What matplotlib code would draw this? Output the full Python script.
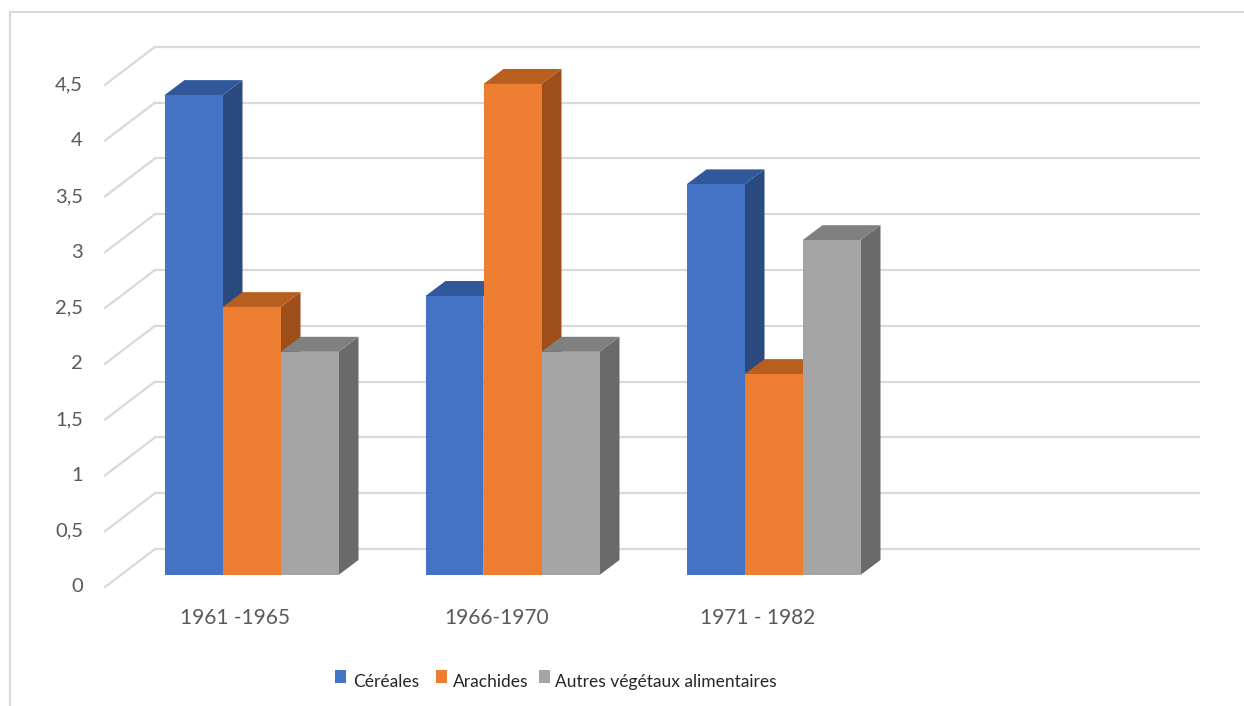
import numpy as np
import matplotlib.pyplot as plt
from matplotlib.patches import Polygon, Rectangle
from matplotlib.lines import Line2D

# data
categories = ['1961 -1965', '1966-1970', '1971 - 1982']
cereales = [4.3, 2.5, 3.5]
arachides = [2.4, 4.4, 1.8]
autres = [2.0, 2.0, 3.0]
series_names = ['Céréales', 'Arachides', 'Autres végétaux alimentaires']
yticks = [0, 0.5, 1, 1.5, 2, 2.5, 3, 3.5, 4, 4.5]
ytick_labels = ['0', '0,5', '1', '1,5', '2', '2,5', '3', '3,5', '4', '4,5']
n_slots = 4  # excel keeps an empty 4th slot

front_cols = ['#4472C4', '#ED7D31', '#A5A5A5']
top_cols = ['#30589A', '#B85E1F', '#808080']
side_cols = ['#2A4A80', '#9E4E18', '#6A6A6A']
grid_col = '#D9D9D9'
txt_col = '#595959'

W, H = 1244, 706
fig = plt.figure(figsize=(W / 100, H / 100), dpi=100)
ax = fig.add_axes([0, 0, 1, 1])
# slot 0 starts at px 121, 261 px per slot; value 0 at py 575, 111.6 px per unit
px_slot, px_unit = 261.0, 111.6
ax.set_xlim(-121 / px_slot, (W - 121) / px_slot)
ax.set_ylim(-(H - 575) / px_unit, 575 / px_unit)
ax.axis('off')

def off(dx_px, dy_px):
    return dx_px / px_slot, dy_px / px_unit

back = off(34, 26)     # back wall
front = off(-16, -12)  # front end of the floor diagonals
depth = off(20, 15)    # bar depth

# gridlines: back wall + diagonal
for v in yticks:
    ax.add_line(Line2D([back[0], n_slots + back[0]], [v + back[1], v + back[1]],
                       color=grid_col, lw=1.6, zorder=1))
    ax.add_line(Line2D([front[0], back[0]], [v + front[1], v + back[1]],
                       color=grid_col, lw=1.6, zorder=1))
for v, lab in zip(yticks, ytick_labels):
    ax.text(front[0] - 22 / px_slot, v + front[1], lab, ha='right', va='center',
            fontsize=14.5, color=txt_col, family='Lato')

# bars
bw = 58 / px_slot
values = [cereales, arachides, autres]
z = 2
for i in range(len(categories)):
    for s in range(3):
        v = values[s][i]
        x0 = i + 0.5 + (s - 1.5) * bw
        x1 = x0 + bw
        dx, dy = depth
        ax.add_patch(Polygon([(x1, 0), (x1 + dx, dy), (x1 + dx, v + dy), (x1, v)],
                             closed=True, fc=side_cols[s], ec='none', zorder=z))
        ax.add_patch(Polygon([(x0, v), (x0 + dx, v + dy), (x1 + dx, v + dy), (x1, v)],
                             closed=True, fc=top_cols[s], ec='none', zorder=z + 1))
        ax.bar(x0, v, width=bw, align='edge', color=front_cols[s], zorder=z + 2)
        z += 3

for i, cat in enumerate(categories):
    ax.text(i + 0.5 + front[0], -43 / px_unit, cat, ha='center', va='center',
            fontsize=15, color=txt_col, family='Lato')

# outer chart border (cropped at right/bottom)
fig.add_artist(Line2D([10 / W, 10 / W], [0, 1 - 12 / H], color=grid_col, lw=1.5,
                      transform=fig.transFigure))
fig.add_artist(Line2D([10 / W, 1], [1 - 12 / H, 1 - 12 / H], color=grid_col, lw=1.5,
                      transform=fig.transFigure))

# legend (text cut at the bottom like the screenshot)
clip = Rectangle((0, 16 / H), 1, 1, transform=fig.transFigure)
leg_sq_x = [335, 436, 539]
leg_tx_x = [353, 453, 555]
for s in range(3):
    fig.add_artist(Rectangle((leg_sq_x[s] / W, 1 - 683 / H), 11 / W, 13 / H,
                             transform=fig.transFigure, fc=front_cols[s], ec='none'))
    t = fig.text(leg_tx_x[s] / W, 1 - 687 / H, series_names[s], ha='left', va='baseline',
                 fontsize=12.5, color='#262626', family='Lato')
    t.set_clip_path(clip)
    t.set_clip_on(True)

fig.savefig('out.png', dpi=100)
